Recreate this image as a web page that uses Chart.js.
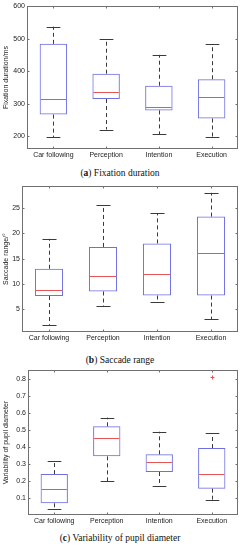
<!DOCTYPE html>
<html><head><meta charset="utf-8">
<script src="https://cdn.jsdelivr.net/npm/chart.js@4.4.1/dist/chart.umd.min.js"></script>
<style>
html,body{margin:0;padding:0;background:#fff;width:240px;height:550px;overflow:hidden;position:relative}
canvas{position:absolute;left:0;display:block}
.cap{position:absolute;left:0;width:240px;text-align:center;font-family:"Liberation Serif","DejaVu Serif",serif;font-size:9.5px;color:#111;line-height:10px;white-space:nowrap}
</style></head><body>
<canvas id="c1" width="240" height="165" style="top:0px;width:240px;height:165px"></canvas>
<div class="cap" style="top:168px">(<b>a</b>) Fixation duration</div>
<canvas id="c2" width="240" height="168" style="top:180px;width:240px;height:168px"></canvas>
<div class="cap" style="top:355px">(<b>b</b>) Saccade range</div>
<canvas id="c3" width="240" height="167" style="top:364px;width:240px;height:167px"></canvas>
<div class="cap" style="top:533px">(<b>c</b>) Variability of pupil diameter</div>
<script>
// ---- data ----
const categories = ['Car following', 'Perception', 'Intention', 'Execution'];

const fixMin = [197, 220, 205, 197];
const fixQ1  = [266, 314, 279, 254];
const fixMed = [314, 335, 290, 321];
const fixQ3  = [484, 392, 355, 375];
const fixMax = [537, 498, 450, 482];
const fixTicks = [200, 300, 400, 500, 600];

const sacMin = [1.9, 5.6, 6.4, 3.0];
const sacQ1  = [7.6, 8.5, 7.7, 7.7];
const sacMed = [8.8, 11.5, 12.0, 16.1];
const sacQ3  = [13.0, 17.3, 18.0, 23.3];
const sacMax = [18.9, 25.6, 24.0, 28.0];
const sacTicks = [5, 10, 15, 20, 25];

const pupMin = [0.037, 0.200, 0.171, 0.090];
const pupQ1  = [0.069, 0.345, 0.253, 0.155];
const pupMed = [0.153, 0.451, 0.312, 0.241];
const pupQ3  = [0.241, 0.522, 0.357, 0.394];
const pupMax = [0.318, 0.573, 0.490, 0.480];
const pupOutliers = [[], [], [], [0.81]];
const pupTicks = [0.1, 0.2, 0.3, 0.4, 0.5, 0.6, 0.7, 0.8];

// ---- styles ----
const BOX = '#6f6fe4';
const MED = '#e65656';
const WHISK = '#3a3a3a';
const FRAME = '#707070';
const FONT = '"Liberation Sans", Arial, sans-serif';

const boxPlugin = {
  id: 'boxExtras',
  afterDatasetsDraw(chart, args, o) {
    const ctx = chart.ctx, ys = chart.scales.y;
    const meta = chart.getDatasetMeta(0);
    ctx.save();
    meta.data.forEach((bar, i) => {
      const cx = Math.round(bar.x) + 0.5, w = bar.width;
      const yMin = ys.getPixelForValue(o.min[i]), yMax = ys.getPixelForValue(o.max[i]);
      const yQ1 = ys.getPixelForValue(o.q1[i]), yQ3 = ys.getPixelForValue(o.q3[i]);
      const yMed = Math.round(ys.getPixelForValue(o.med[i])) + 0.5;
      // whiskers
      ctx.strokeStyle = WHISK; ctx.lineWidth = 1; ctx.setLineDash([4, 3]);
      ctx.beginPath();
      ctx.moveTo(cx, yQ3); ctx.lineTo(cx, yMax);
      ctx.moveTo(cx, yQ1); ctx.lineTo(cx, yMin);
      ctx.stroke();
      ctx.setLineDash([]);
      // caps
      ctx.beginPath();
      const a = Math.round(yMax) + 0.5, b = Math.round(yMin) + 0.5;
      ctx.moveTo(cx - w / 4, a); ctx.lineTo(cx + w / 4, a);
      ctx.moveTo(cx - w / 4, b); ctx.lineTo(cx + w / 4, b);
      ctx.stroke();
      // median
      ctx.strokeStyle = MED;
      ctx.beginPath();
      ctx.moveTo(bar.x - w / 2 + 1, yMed); ctx.lineTo(bar.x + w / 2 - 1, yMed);
      ctx.stroke();
      // outliers
      if (o.out) {
        o.out[i].forEach(v => {
          const yy = Math.round(ys.getPixelForValue(v)) + 0.5;
          ctx.beginPath();
          ctx.moveTo(cx - 2, yy); ctx.lineTo(cx + 2, yy);
          ctx.moveTo(cx, yy - 2); ctx.lineTo(cx, yy + 2);
          ctx.stroke();
        });
      }
    });
    ctx.restore();
  },
  afterDraw(chart, args, o) {
    const ctx = chart.ctx, a = chart.chartArea, xs = chart.scales.x, ys = chart.scales.y;
    ctx.save();
    ctx.strokeStyle = FRAME; ctx.lineWidth = 1;
    const L = Math.round(a.left) + 0.5, R = Math.round(a.right) - 0.5;
    const T = Math.round(a.top) + 0.5, B = Math.round(a.bottom) - 0.5;
    ctx.strokeRect(L, T, R - L, B - T);
    ctx.beginPath();
    o.ticks.forEach(v => {
      const y = Math.round(ys.getPixelForValue(v)) + 0.5;
      ctx.moveTo(L, y); ctx.lineTo(L + 2, y);
      ctx.moveTo(R, y); ctx.lineTo(R - 2, y);
    });
    categories.forEach((c, i) => {
      const x = Math.round(xs.getPixelForValue(i)) + 0.5;
      ctx.moveTo(x, B); ctx.lineTo(x, B - 2);
      ctx.moveTo(x, T); ctx.lineTo(x, T + 2);
    });
    ctx.stroke();
    ctx.restore();
  }
};

function makeChart(id, q1, q3, stats, yMin, yMax, ticks, title, yWidth, padTop, fmt) {
  return new Chart(document.getElementById(id), {
    type: 'bar',
    data: {
      labels: categories,
      datasets: [{
        data: q1.map((v, i) => [v, q3[i]]),
        backgroundColor: 'rgba(0,0,0,0)',
        borderColor: BOX,
        borderWidth: 1,
        borderSkipped: false,
        barPercentage: 0.52,
        categoryPercentage: 1
      }]
    },
    options: {
      responsive: false,
      animation: false,
      devicePixelRatio: 1,
      layout: { padding: { top: padTop, right: 2, left: 0, bottom: 0 } },
      plugins: {
        legend: { display: false },
        tooltip: { enabled: false },
        boxExtras: Object.assign({ ticks: ticks }, stats)
      },
      scales: {
        x: {
          grid: { display: false, drawTicks: false },
          border: { display: false },
          ticks: { color: '#222', font: { family: FONT, size: 7 }, padding: 2, maxRotation: 0, autoSkip: false },
          afterFit(s) { s.height = 16; }
        },
        y: {
          min: yMin, max: yMax,
          grid: { display: false, drawTicks: false },
          border: { display: false },
          afterBuildTicks(s) { s.ticks = ticks.map(v => ({ value: v })); },
          ticks: { color: '#222', font: { family: FONT, size: 7 }, padding: 2, callback: fmt },
          title: { display: true, text: title, color: '#222', font: { family: FONT, size: 7 }, padding: { top: 2, bottom: 0 } },
          afterFit(s) { s.width = yWidth; }
        }
      }
    },
    plugins: [boxPlugin]
  });
}

makeChart('c1', fixQ1, fixQ3, { min: fixMin, q1: fixQ1, med: fixMed, q3: fixQ3, max: fixMax },
  160, 600, fixTicks, 'Fixation duration/ms', 27, 5, v => String(v));
makeChart('c2', sacQ1, sacQ3, { min: sacMin, q1: sacQ1, med: sacMed, q3: sacQ3, max: sacMax },
  0.5, 29.3, sacTicks, 'Saccade range/°', 22, 6, v => String(v));
makeChart('c3', pupQ1, pupQ3, { min: pupMin, q1: pupQ1, med: pupMed, q3: pupQ3, max: pupMax, out: pupOutliers },
  0, 0.852, pupTicks, 'Variability of pupil diameter', 28, 6, v => v.toFixed(1));
</script>
</body></html>
